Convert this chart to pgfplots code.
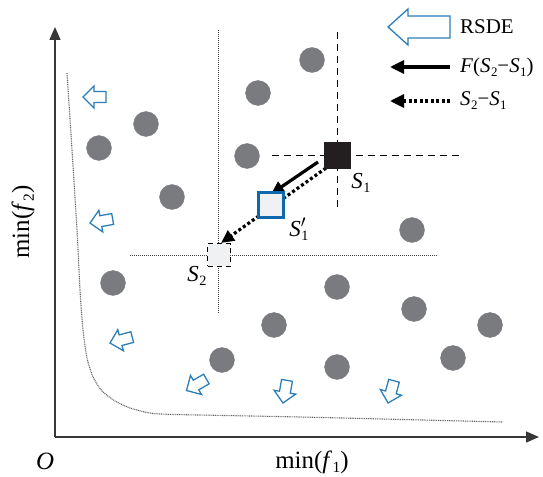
\documentclass[border=0pt]{standalone}
\usepackage{fontspec}
\setmainfont{Liberation Serif}
\usepackage{graphicx}
\usepackage{pgfplots}
\pgfplotsset{compat=1.18}
\usetikzlibrary{arrows.meta}
\definecolor{dotgray}{RGB}{122,123,127}
\definecolor{arrblue}{RGB}{44,127,184}
\definecolor{sqblue}{RGB}{16,104,172}
\definecolor{sqfill}{RGB}{240,241,243}
\definecolor{axgray}{RGB}{55,55,55}
\definecolor{sqblack}{RGB}{35,31,32}
\newcommand{\sub}[1]{\kern0.02em\raisebox{-0.42ex}{\scalebox{0.62}{#1}}}
\begin{document}
\begin{tikzpicture}
\begin{axis}[
  width=543bp, height=477bp, scale only axis,
  xmin=0, xmax=543, ymin=0, ymax=477, y dir=reverse,
  hide axis, clip=false,
]
\path (rel axis cs:0,0) rectangle (rel axis cs:1,1);
% coordinate axes
\addplot[axgray, line width=1.5bp, -{Triangle[length=13bp,width=11bp]}] coordinates {(55,437) (539,437)};
\addplot[axgray, line width=1.5bp, -{Triangle[length=13bp,width=11bp]}] coordinates {(55,437) (55,27)};
% Pareto front
\addplot[black!60, line width=1.1bp, dash pattern=on 1bp off 0.8bp, smooth, tension=0.4] coordinates {
 (67,73) (72,150) (77,230) (80,290) (83,330) (87,358) (93,377) (102,391) (115,401) (130,408) (150,413) (175,414.5) (300,417) (503,422)};
% guide lines through S2 (dotted)
\addplot[black!75, line width=0.9bp, dash pattern=on 1bp off 1bp] coordinates {(130,255) (438,255)};
\addplot[black!75, line width=0.9bp, dash pattern=on 1bp off 1bp] coordinates {(218,30) (218,313)};
% guide lines through S1 (dashed)
\addplot[black, line width=0.8bp, dash pattern=on 7bp off 5bp] coordinates {(272,155) (460,155)};
\addplot[black, line width=0.8bp, dash pattern=on 7bp off 5bp] coordinates {(337,32) (337,210)};
% population
\addplot[only marks, mark=*, mark size=12.5, color=dotgray] coordinates {
 (312,60) (258,93) (146,124) (99,148) (247,156) (172,197) (412,230)
 (113,283) (337,287) (274,325) (414,309) (490,325) (222,360) (337,367) (453,358)};
% difference vector S2-S1 (dotted) and F(S2-S1) (solid)
\addplot[black, line width=3.2bp, dash pattern=on 3bp off 2.5bp, -{Triangle[length=13bp,width=12bp]}] coordinates {(326,168) (221,243)};
\addplot[black, line width=3.2bp, -{Triangle[length=13bp,width=12bp]}] coordinates {(318,162) (271,194)};
% squares
\addplot[only marks, mark=square*, mark size=11.5, mark options={fill=sqfill, draw=black, line width=1.6bp, dash pattern=on 5bp off 4bp}] coordinates {(219,255)};
\addplot[only marks, mark=square*, mark size=12.5, mark options={fill=sqfill, draw=sqblue, line width=3.5bp}] coordinates {(271,205)};
\addplot[only marks, mark=square*, mark size=13, mark options={fill=sqblack, draw=sqblack}] coordinates {(337,155)};
% hollow blue arrows (RSDE direction)
\addplot[arrblue, fill=white, line width=1.3bp] coordinates {(83,97) (94,86) (94,91.5) (106,91.5) (106,102.5) (94,102.5) (94,108)} -- cycle;
\addplot[arrblue, fill=white, line width=1.3bp] coordinates {(90,223) (98.9,210.3) (99.8,215.7) (111.7,213.6) (113.6,224.4) (101.8,226.5) (102.7,231.9)} -- cycle;
\addplot[arrblue, fill=white, line width=1.3bp] coordinates {(110,343) (117.8,329.6) (119.2,334.9) (130.8,331.8) (133.6,342.4) (122.0,345.5) (123.5,350.8)} -- cycle;
\addplot[arrblue, fill=white, line width=1.3bp] coordinates {(186.5,390.5) (190.5,375.5) (193.25,380.2) (203.6,374.2) (209.1,383.8) (198.75,389.8) (201.5,394.5)} -- cycle;
\addplot[arrblue, fill=white, line width=1.3bp] coordinates {(283,403) (274.1,390.3) (279.5,391.2) (281.6,379.4) (292.4,381.3) (290.3,393.2) (295.7,394.1)} -- cycle;
\addplot[arrblue, fill=white, line width=1.3bp] coordinates {(388,403) (380.3,389.5) (385.6,391.0) (388.7,379.4) (399.3,382.2) (396.2,393.8) (401.5,395.2)} -- cycle;
% legend
\addplot[arrblue, fill=white, line width=1.3bp] coordinates {(388,27) (408,9) (408,16) (450,16) (450,38) (408,38) (408,45)} -- cycle;
\addplot[black, line width=3.2bp, -{Triangle[length=14bp,width=13bp]}] coordinates {(450,67) (390,67)};
\addplot[black, line width=3.2bp, dash pattern=on 3bp off 2.5bp, -{Triangle[length=14bp,width=13bp]}] coordinates {(450,101) (390,101)};
\node[anchor=west, font=\fontsize{21}{24}\selectfont, inner sep=0pt] at (axis cs:460,27) {RSDE};
\node[anchor=west, font=\fontsize{21}{24}\selectfont, inner sep=0pt] at (axis cs:460,67) {\textit{F}(\textit{S}\sub{2}−\textit{S}\sub{1})};
\node[anchor=west, font=\fontsize{21}{24}\selectfont, inner sep=0pt] at (axis cs:460,101) {\textit{S}\sub{2}−\textit{S}\sub{1}};
% point labels
\node[font=\fontsize{23}{26}\selectfont, inner sep=0pt] at (axis cs:361,183) {\textit{S}\sub{1}};
\node[font=\fontsize{23}{26}\selectfont, inner sep=0pt] at (axis cs:299,229) {\textit{S}\rlap{\textsuperscript{$\prime$}}\sub{1}};
\node[font=\fontsize{23}{26}\selectfont, inner sep=0pt] at (axis cs:197,276) {\textit{S}\sub{2}};
% axis labels
\node[font=\fontsize{25}{28}\selectfont, inner sep=0pt] at (axis cs:312,462) {min(\textit{f}\sub{1})};
\node[font=\fontsize{25}{28}\selectfont, inner sep=0pt, rotate=90] at (axis cs:23,222) {min(\textit{f}\sub{2})};
\node[font=\fontsize{25}{28}\selectfont, inner sep=0pt] at (axis cs:45,461) {\textit{O}};
\end{axis}
\end{tikzpicture}
\end{document}
